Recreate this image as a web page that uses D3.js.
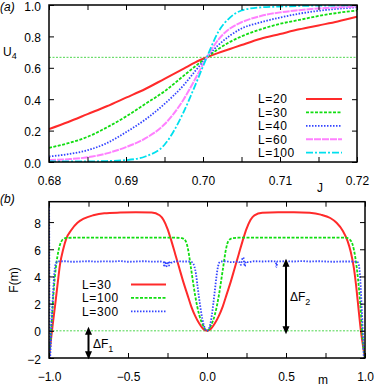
<!DOCTYPE html>
<html>
<head>
<meta charset="utf-8">
<script src="https://cdn.jsdelivr.net/npm/d3@7"></script>
<style>
  body { margin: 0; background: #fff; }
  svg text { font-family: "Liberation Sans", Arial, sans-serif; font-size: 12px; fill: #000; }
  svg text.big { letter-spacing: 0.6px; }
</style>
</head>
<body>
<script>
// ---- panel (a): Binder cumulant U4 vs J ----
const jVals  = [0.68, 0.6825, 0.685, 0.6875, 0.69, 0.6925, 0.695, 0.6975, 0.699, 0.7005, 0.702, 0.7035, 0.705, 0.7075, 0.71, 0.7125, 0.715, 0.7175, 0.72];
const u4L20  = [0.21, 0.255, 0.305, 0.355, 0.41, 0.465, 0.53, 0.595, 0.635, 0.667, 0.695, 0.72, 0.745, 0.785, 0.815, 0.845, 0.87, 0.895, 0.925];
const u4L30  = [0.09, 0.12, 0.16, 0.22, 0.29, 0.37, 0.45, 0.55, 0.61, 0.667, 0.72, 0.765, 0.80, 0.845, 0.88, 0.905, 0.93, 0.95, 0.965];
const u4L40  = [0.035, 0.05, 0.075, 0.12, 0.19, 0.27, 0.37, 0.49, 0.58, 0.667, 0.745, 0.805, 0.85, 0.89, 0.92, 0.945, 0.963, 0.976, 0.985];
const u4L60  = [0.012, 0.018, 0.03, 0.055, 0.095, 0.15, 0.24, 0.40, 0.53, 0.667, 0.78, 0.85, 0.89, 0.93, 0.953, 0.967, 0.978, 0.985, 0.99];
const u4L100 = [0.005, 0.004, 0.004, 0.006, 0.012, 0.035, 0.11, 0.32, 0.49, 0.667, 0.83, 0.92, 0.965, 0.985, 0.99, 0.994, 0.996, 0.997, 0.998];
const u4Names = ["L=20", "L=30", "L=40", "L=60", "L=100"];
const u4Cross = 2 / 3;

// ---- panel (b): free energy F(m) ----
const mL30 = [-1, -0.99, -0.975, -0.96, -0.945, -0.93, -0.91, -0.89, -0.86, -0.82, -0.78, -0.72, -0.65, -0.55, -0.45, -0.35, -0.3, -0.275, -0.25, -0.225, -0.2, -0.175, -0.15, -0.125, -0.1, -0.075, -0.05, -0.025, 0,
  0.025, 0.05, 0.075, 0.1, 0.125, 0.15, 0.175, 0.2, 0.225, 0.25, 0.275, 0.3, 0.35, 0.45, 0.55, 0.65, 0.72, 0.78, 0.82, 0.86, 0.89, 0.91, 0.93, 0.945, 0.96, 0.975, 0.99, 1];
const fL30 = [-2, -0.9, 0.6, 2.0, 3.5, 4.9, 6.0, 6.8, 7.4, 7.95, 8.25, 8.5, 8.65, 8.7, 8.72, 8.7, 8.5, 8.15, 7.5, 6.6, 5.6, 4.6, 3.6, 2.7, 1.8, 1.1, 0.55, 0.15, 0,
  0.15, 0.55, 1.1, 1.8, 2.7, 3.6, 4.6, 5.6, 6.6, 7.5, 8.15, 8.5, 8.68, 8.72, 8.72, 8.68, 8.55, 8.3, 7.95, 7.35, 6.6, 5.8, 4.6, 3.2, 1.5, -0.1, -1.3, -2];

const mL100 = [-1, -0.99, -0.98, -0.97, -0.955, -0.94, -0.925, -0.91, -0.89, -0.85, -0.7, -0.5, -0.3, -0.2, -0.16, -0.135, -0.12, -0.1, -0.075, -0.05, -0.025, 0,
  0.025, 0.05, 0.075, 0.1, 0.12, 0.135, 0.16, 0.2, 0.3, 0.5, 0.7, 0.85, 0.88, 0.9, 0.92, 0.94, 0.955, 0.97, 0.98, 0.99, 1];
const fL100 = [-2, -0.5, 1.2, 3.0, 4.8, 5.9, 6.5, 6.75, 6.83, 6.85, 6.85, 6.85, 6.85, 6.85, 6.82, 6.6, 6.0, 4.5, 2.6, 1.2, 0.4, 0,
  0.4, 1.2, 2.6, 4.5, 6.0, 6.6, 6.82, 6.85, 6.85, 6.85, 6.85, 6.85, 6.85, 6.75, 6.4, 5.3, 3.9, 2.0, 0.2, -1.2, -2];

const mL300 = [-1, -0.995, -0.985, -0.975, -0.965, -0.955, -0.945, -0.9, -0.85, -0.8, -0.75, -0.7, -0.65, -0.6, -0.55, -0.5, -0.45, -0.4, -0.35, -0.3, -0.275, -0.27, -0.265, -0.255, -0.25, -0.24, -0.235, -0.22, -0.2, -0.15, -0.12, -0.1, -0.09, -0.08, -0.07, -0.06, -0.05, -0.04, -0.03, -0.02, -0.01, 0,
  0.01, 0.02, 0.03, 0.04, 0.05, 0.06, 0.07, 0.08, 0.09, 0.12, 0.15, 0.2, 0.215, 0.22, 0.23, 0.235, 0.24, 0.245, 0.26, 0.3, 0.35, 0.4, 0.435, 0.44, 0.445, 0.5, 0.55, 0.6, 0.65, 0.7, 0.75, 0.8, 0.85, 0.9, 0.95, 0.96, 0.97, 0.98, 0.988, 0.993];
const fL300 = [14, -2.2, 0.2, 2.6, 4.4, 5.0, 5.1, 5.12, 5.08, 5.1, 5.12, 5.09, 5.11, 5.1, 5.13, 5.08, 5.1, 5.12, 5.09, 5.1, 5.05, 4.7, 5.1, 4.75, 5.08, 4.8, 5.1, 5.0, 5.12, 5.1, 5.1, 5.08, 5.0, 4.75, 4.2, 3.3, 2.4, 1.6, 0.9, 0.4, 0.1, 0,
  0.1, 0.45, 1.1, 2.0, 3.0, 4.0, 4.75, 5.05, 5.1, 5.12, 5.05, 5.1, 4.85, 5.15, 5.4, 5.0, 4.75, 5.1, 5.05, 5.12, 5.1, 5.12, 5.1, 4.7, 5.1, 5.12, 5.1, 5.13, 5.1, 5.12, 5.1, 5.08, 5.1, 5.1, 5.08, 4.9, 3.8, 1.5, -0.5, -2.2];
const fNames = ["L=30", "L=100", "L=300"];
const dF1 = [0.3, -2.1];   // arrow ends at m = -0.75
const dF2 = [5.3, -0.25];  // arrow ends at m = 0.5

const styleA = [
  { color: "#ff2a2a", width: 2,   dash: null },
  { color: "#11dd11", width: 1.8, dash: "3,1.5" },
  { color: "#3344ff", width: 1.8, dash: "1.5,1.5" },
  { color: "#ff80ff", width: 2,   dash: "7,1" },
  { color: "#00e0ee", width: 1.8, dash: "7,2,2,2" }
];
const styleB = styleA.slice(0, 3);

const svg = d3.select("body").append("svg").attr("width", 374).attr("height", 387);

function styled(sel, s) {
  sel.attr("fill", "none").attr("stroke", s.color).attr("stroke-width", s.width);
  if (s.dash) sel.attr("stroke-dasharray", s.dash);
  return sel;
}

function axes(x, y, xTicks, xFmt, yTicks, yFmt) {
  const [xl, xr] = x.range(), [yb, yt] = y.range();
  const style = g => {
    g.select(".domain").remove();
    g.selectAll("text").attr("font-size", null).attr("font-family", null);
    g.selectAll("line").attr("stroke", "#000");
  };
  svg.append("g").attr("transform", `translate(0,${yb})`)
    .call(d3.axisBottom(x).tickValues(xTicks).tickSize(-5).tickPadding(14).tickFormat(xFmt)).call(style);
  svg.append("g").attr("transform", `translate(0,${yt})`)
    .call(d3.axisTop(x).tickValues(xTicks).tickSize(-5).tickFormat("")).call(style);
  svg.append("g").attr("transform", `translate(${xl},0)`)
    .call(d3.axisLeft(y).tickValues(yTicks).tickSize(-5).tickPadding(8).tickFormat(yFmt)).call(style)
    .selectAll("text").attr("dy", "0.42em");
  svg.append("g").attr("transform", `translate(${xr},0)`)
    .call(d3.axisRight(y).tickValues(yTicks).tickSize(-5).tickFormat("")).call(style);
  svg.append("rect").attr("x", xl).attr("y", yt).attr("width", xr - xl).attr("height", yb - yt)
    .attr("fill", "none").attr("stroke", "#000").attr("stroke-width", 1.5);
}

function arrow(x, y, m, ends) {
  const xp = x(m), y1 = y(ends[0]), y2 = y(ends[1]);
  svg.append("line").attr("x1", xp).attr("x2", xp).attr("y1", y1 + 6).attr("y2", y2 - 6)
    .attr("stroke", "#000").attr("stroke-width", 2);
  svg.append("path").attr("d", `M${xp},${y1}L${xp - 3.5},${y1 + 8}L${xp + 3.5},${y1 + 8}Z`).attr("fill", "#000");
  svg.append("path").attr("d", `M${xp},${y2}L${xp - 3.5},${y2 - 8}L${xp + 3.5},${y2 - 8}Z`).attr("fill", "#000");
}

// ===== panel (a) =====
const xA = d3.scaleLinear().domain([0.68, 0.72]).range([49, 357]);
const yA = d3.scaleLinear().domain([0, 1]).range([162, 5]);
svg.append("clipPath").attr("id", "clipA").append("rect")
  .attr("x", 49).attr("y", 5).attr("width", 308).attr("height", 157);

const gA = svg.append("g").attr("clip-path", "url(#clipA)");
gA.append("line").attr("x1", xA(0.68)).attr("x2", xA(0.72)).attr("y1", yA(u4Cross)).attr("y2", yA(u4Cross))
  .attr("stroke", "#22cc22").attr("stroke-width", 0.8).attr("stroke-dasharray", "2,1.5");
const lineA = d3.line().x((d, i) => xA(jVals[i])).y(d => yA(d)).curve(d3.curveMonotoneX);
[u4L20, u4L30, u4L40, u4L60, u4L100].forEach((s, k) => {
  styled(gA.append("path").attr("d", lineA(s)), styleA[k]);
});

const xTicksA = d3.range(0, 9).map(i => +(0.68 + i * 0.005).toFixed(3));
axes(xA, yA, xTicksA, d => (Math.round(d * 1000) % 10 === 0 ? d3.format(".2f")(d) : ""),
  d3.range(0, 6).map(i => i * 0.2), d3.format(".1f"));

u4Names.forEach((n, k) => {
  const yy = 99 + k * 13.4;
  svg.append("text").attr("class", "big").attr("x", 258).attr("y", yy).attr("dy", "0.36em").text(n);
  styled(svg.append("line").attr("x1", 306).attr("x2", 342).attr("y1", yy).attr("y2", yy), styleA[k]);
});
svg.append("text").attr("x", 0).attr("y", 11).attr("font-style", "italic").text("(a)");
const uLab = svg.append("text").attr("x", 3).attr("y", 56);
uLab.append("tspan").text("U");
uLab.append("tspan").attr("dy", 3).attr("font-size", 9).text("4");
svg.append("text").attr("x", 317).attr("y", 192).text("J");

// ===== panel (b) =====
const xB = d3.scaleLinear().domain([-1, 1]).range([49, 365]);
const yB = d3.scaleLinear().domain([-2, 9.5]).range([358, 201.7]);
svg.append("clipPath").attr("id", "clipB").append("rect")
  .attr("x", 49).attr("y", 201.7).attr("width", 316).attr("height", 156.3);

const gB = svg.append("g").attr("clip-path", "url(#clipB)");
gB.append("line").attr("x1", xB(-1)).attr("x2", xB(1)).attr("y1", yB(0)).attr("y2", yB(0))
  .attr("stroke", "#22cc22").attr("stroke-width", 0.8).attr("stroke-dasharray", "2,1.5");
const lineB = (mm, ff) => d3.line().x((d, i) => xB(mm[i])).y(d => yB(d)).curve(d3.curveMonotoneX)(ff);
[[mL30, fL30], [mL100, fL100], [mL300, fL300]].forEach(([mm, ff], k) => {
  styled(gB.append("path").attr("d", lineB(mm, ff)), styleB[k]);
});

axes(xB, yB, d3.range(-4, 5).map(i => i * 0.25), d => (Math.round(d * 100) % 50 === 0 ? d3.format(".1f")(d) : ""),
  d3.range(-2, 10, 2), d3.format("d"));

fNames.forEach((n, k) => {
  const yy = 284.5 + k * 13.4;
  svg.append("text").attr("class", "big").attr("x", 82).attr("y", yy).attr("dy", "0.36em").text(n);
  styled(svg.append("line").attr("x1", 131).attr("x2", 166).attr("y1", yy).attr("y2", yy), styleB[k]);
});

arrow(xB, yB, -0.75, dF1);
arrow(xB, yB, 0.5, dF2);
const t1 = svg.append("text").attr("x", 93).attr("y", 348).attr("font-size", 13);
t1.append("tspan").text("ΔF");
t1.append("tspan").attr("dy", 4).attr("font-size", 9).text("1");
const t2 = svg.append("text").attr("x", 290).attr("y", 301).attr("font-size", 13);
t2.append("tspan").text("ΔF");
t2.append("tspan").attr("dy", 4).attr("font-size", 9).text("2");

svg.append("text").attr("x", 0).attr("y", 203).attr("font-style", "italic").text("(b)");
svg.append("text").attr("transform", "translate(18,280) rotate(-90)").attr("text-anchor", "middle").text("F(m)");
svg.append("text").attr("x", 318).attr("y", 384).text("m");
</script>
</body>
</html>
